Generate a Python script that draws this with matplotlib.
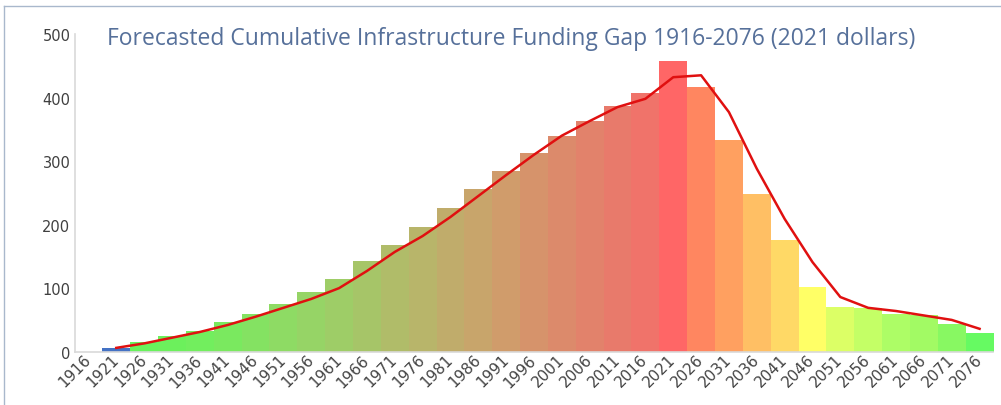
import numpy as np
import matplotlib.pyplot as plt
import matplotlib.transforms as mtransforms
from matplotlib.lines import Line2D

# Years on the category axis
years = [str(y) for y in range(1916, 2077, 5)]

# Bar heights (funding gap per period)
gap = [0, 6, 16, 24, 33, 46, 60, 75, 94, 115, 142, 168, 197, 226, 256, 285,
       313, 340, 363, 387, 407, 458, 417, 333, 248, 176, 102, 71, 68, 60, 57, 44, 30]

# Red trend line
trend = [np.nan, 6, 13, 22, 31, 42, 55, 69, 83, 100, 127, 157, 182, 212, 245, 278,
         310, 340, 363, 385, 398, 432, 435, 377, 288, 209, 141, 86, 69, 64, 57, 50, 36]

bar_colors = ['#4472c4', '#4472c4', '#68f25c', '#6cf05c', '#72ee5e', '#7ae95f',
              '#84e262', '#8edb64', '#96d466', '#9ecd67', '#a6c568', '#b0bc69',
              '#b8b56a', '#c0ac6b', '#c8a56b', '#d09c6b', '#d6936b', '#dc8a6b',
              '#e2826b', '#e87a6b', '#f0736a', '#ff6666', '#ff8660', '#ffa060',
              '#ffbf64', '#ffd966', '#ffff66', '#dcff66', '#c4ff66', '#adfd66',
              '#a2fa64', '#88f862', '#66fa62']

fig = plt.figure(figsize=(10.01, 4.06), dpi=100)
ax = fig.add_axes([74.5 / 1001, 53 / 406, 919 / 1001, 318 / 406])

x = np.arange(len(years))
ax.bar(x, gap, width=1.0, color=bar_colors, linewidth=0)
ax.plot(x, trend, color='#e01010', linewidth=1.8)

ax.set_xlim(-0.5, len(years) - 0.5)
ax.set_ylim(-0.5, 500)
ax.set_yticks([0, 100, 200, 300, 400, 500])
ax.set_xticks(x)
ax.set_xticklabels(years, rotation=45, ha='right', va='center',
                   rotation_mode='anchor', fontsize=11, color='#444444')
offset = mtransforms.ScaledTranslation(10 / 100, -3 / 100, fig.dpi_scale_trans)
for lbl in ax.get_xticklabels():
    lbl.set_transform(lbl.get_transform() + offset)
ax.tick_params(axis='both', length=0)
ax.tick_params(axis='y', labelsize=10.5, labelcolor='#404040', pad=3)

for side in ['top', 'right']:
    ax.spines[side].set_visible(False)
for side in ['left', 'bottom']:
    ax.spines[side].set_color('#d9d9d9')
    ax.spines[side].set_linewidth(1.2)

fig.text(107 / 1001, 1 - 39 / 406,
         'Forecasted Cumulative Infrastructure Funding Gap 1916-2076 (2021 dollars)',
         fontsize=16.5, color='#56709a', family='Open Sans', va='center')

# thin frame around the chart
fig.add_artist(Line2D([4 / 1001, 1], [1 - 7 / 406, 1 - 7 / 406],
                      transform=fig.transFigure, color='#a9b8cc', linewidth=1))
fig.add_artist(Line2D([4 / 1001, 4 / 1001], [0, 1 - 7 / 406],
                      transform=fig.transFigure, color='#a9b8cc', linewidth=1))

fig.savefig('out.png', dpi=100)
